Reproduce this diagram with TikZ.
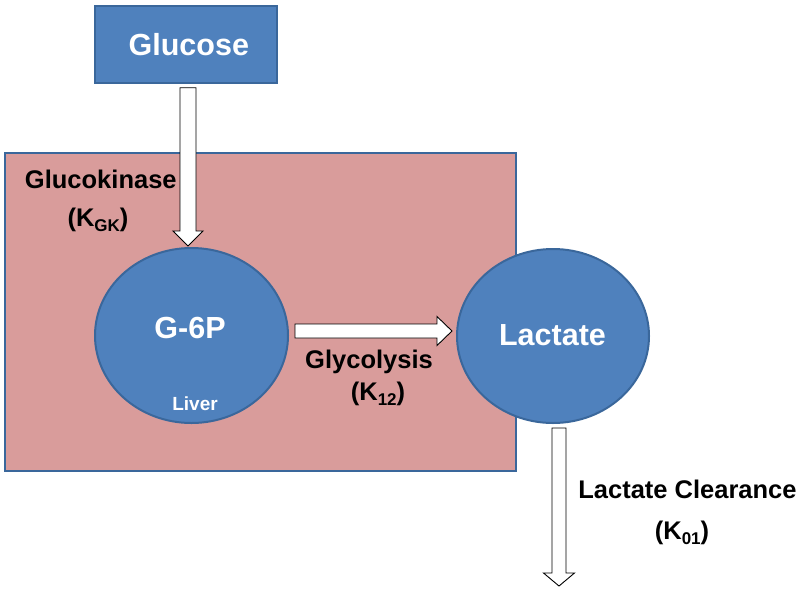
\documentclass[tikz,border=0pt]{standalone}
\usepackage{fontspec}
\setmainfont{Liberation Sans}
\usetikzlibrary{calc,shapes.geometric}
\definecolor{nodeblue}{HTML}{4F81BD}
\definecolor{nodeedge}{HTML}{3A679B}
\definecolor{liverpink}{HTML}{D99C9B}
\newcommand{\sublow}[1]{\raisebox{-5pt}{\fontsize{17}{17}\selectfont #1}}
\begin{document}
\begin{tikzpicture}[x=1pt,y=-1pt,
  bluebox/.style={draw=nodeedge,line width=1.5pt,fill=nodeblue,inner sep=0pt},
  liverbox/.style={draw=nodeedge,line width=2pt,fill=liverpink,inner sep=0pt},
  compart/.style={ellipse,draw=nodeedge,line width=2pt,fill=nodeblue,inner sep=0pt},
  whitetxt/.style={text=white,font=\bfseries\fontsize{30.5}{32}\selectfont,anchor=base,inner sep=0pt},
  smallwhite/.style={text=white,font=\bfseries\fontsize{19}{20}\selectfont,anchor=base,inner sep=0pt},
  blacktxt/.style={text=black,font=\bfseries\fontsize{25.5}{27}\selectfont,anchor=base,inner sep=0pt},
  blockarrow/.style={draw=black,line width=0.9pt,fill=white,line join=miter}]
\useasboundingbox (0,0) rectangle (800,590);
% liver compartment
\node[liverbox,minimum width=511pt,minimum height=318pt] (liver) at (260.5,312) {};
% glucose box
\node[bluebox,minimum width=182pt,minimum height=77pt] (glucose) at (186,44.5) {};
\node[whitetxt] (glucosetxt) at (188.8,55) {Glucose};
% compartments
\node[compart,minimum width=193pt,minimum height=175pt] (g6p) at (191.5,335.5) {};
\node[compart,minimum width=192pt,minimum height=174pt] (lactate) at (553,336) {};
\node[whitetxt] (g6ptxt) at (190,338) {G-6P};
\node[smallwhite] (livertxt) at (195,410) {Liver};
\node[whitetxt] (lactatetxt) at (552.5,345) {Lactate};
% arrow 1: glucose -> G-6P
\coordinate (a1s) at ($(glucose.south)+(2,4)$);
\coordinate (a1e) at ($(a1s |- g6p.north)+(0,-1)$);
\draw[blockarrow] ($(a1s)+(-8,0)$) -- ($(a1e)+(-8,-15)$) -- ($(a1e)+(-15,-15)$) -- (a1e)
  -- ($(a1e)+(15,-15)$) -- ($(a1e)+(8,-15)$) -- ($(a1s)+(8,0)$) -- cycle;
% arrow 2: G-6P -> Lactate
\coordinate (a2s) at ($(g6p.east)+(6,-4.5)$);
\coordinate (a2e) at ($(a2s -| lactate.west)+(-4,0)$);
\draw[blockarrow] ($(a2s)+(0,-7)$) -- ($(a2e)+(-15,-7)$) -- ($(a2e)+(-15,-14.5)$) -- (a2e)
  -- ($(a2e)+(-15,14.5)$) -- ($(a2e)+(-15,7)$) -- ($(a2s)+(0,7)$) -- cycle;
% arrow 3: lactate clearance
\coordinate (a3s) at ($(lactate.south)+(6,4)$);
\coordinate (a3e) at ($(a3s)+(0,158)$);
\draw[blockarrow] ($(a3s)+(-7,0)$) -- ($(a3e)+(-7,-13)$) -- ($(a3e)+(-15.5,-13)$) -- (a3e)
  -- ($(a3e)+(15.5,-13)$) -- ($(a3e)+(7,-13)$) -- ($(a3s)+(7,0)$) -- cycle;
% labels
\node[blacktxt] (gk) at (100.8,188.5) {Glucokinase};
\node[blacktxt] (gkk) at (98,226) {(K\sublow{GK})};
\node[blacktxt] (gly) at (369,368.5) {Glycolysis};
\node[blacktxt] (glyk) at (378,400) {(K\sublow{12})};
\node[blacktxt] (lc) at (687.5,498) {Lactate Clearance};
\node[blacktxt] (lck) at (682,539) {(K\sublow{01})};
\end{tikzpicture}
\end{document}
